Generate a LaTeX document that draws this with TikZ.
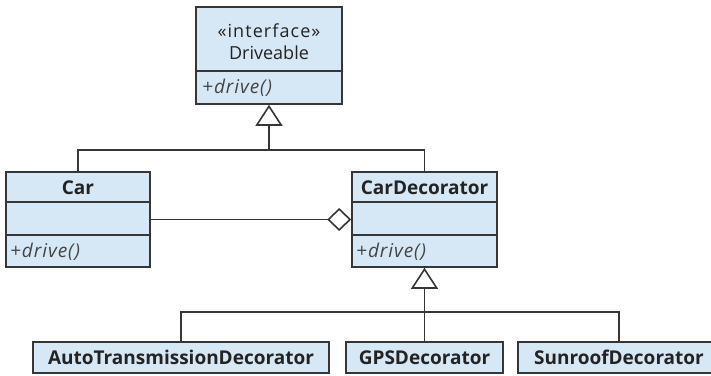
\documentclass[tikz,border=0pt]{standalone}
\usepackage{fontspec}
\setmainfont{Open Sans}
\usetikzlibrary{arrows.meta}
\definecolor{boxfill}{HTML}{D6E8F5}
\definecolor{edge}{HTML}{363636}
\definecolor{ink}{HTML}{232323}
\begin{document}
\begin{tikzpicture}[x=1pt,y=-1pt,
  classbox/.style={draw=edge, fill=boxfill, line width=1.6pt, inner sep=0pt, rectangle},
  title/.style={font=\fontsize{19}{22}\selectfont\bfseries, text=ink, inner sep=0pt},
  plain/.style={font=\fontsize{18}{21}\selectfont, text=ink, inner sep=0pt},
  op/.style={font=\fontsize{19}{22}\selectfont\itshape\addfontfeatures{LetterSpace=5}, text=ink!85, anchor=west, inner sep=0pt},
  line/.style={draw=edge, line width=1.6pt},
  inherit/.style={line, -{Triangle[open, length=21pt, width=27pt, line width=1.6pt]}},
  aggregate/.style={line, {Diamond[open, length=24pt, width=23pt, line width=1.6pt]}-}
]
\useasboundingbox (0,0) rectangle (711,375);

% interface Driveable
\node[classbox, minimum width=146pt, minimum height=97pt] (drv) at (269,55.5) {};
\draw[line] ([yshift=-65pt]drv.north west) -- ([yshift=-65pt]drv.north east);
\node[plain] (drvst) at (269,31) {\addfontfeatures{LetterSpace=6}«interface»};
\node[plain] (drvname) at (269,53) {Driveable};
\node[op] (drvop) at (202,88) {+drive()};

% class Car
\node[classbox, minimum width=144pt, minimum height=95pt] (car) at (78,219.5) {};
\draw[line] ([yshift=-31pt]car.north west) -- ([yshift=-31pt]car.north east);
\draw[line] ([yshift=-64pt]car.north west) -- ([yshift=-64pt]car.north east);
\node[title] (carname) at (78,188) {Car};
\node[op] (carop) at (10,252) {+drive()};

% class CarDecorator
\node[classbox, minimum width=145pt, minimum height=95pt] (dec) at (424.5,219.5) {};
\draw[line] ([yshift=-31pt]dec.north west) -- ([yshift=-31pt]dec.north east);
\draw[line] ([yshift=-64pt]dec.north west) -- ([yshift=-64pt]dec.north east);
\node[title] (decname) at (424.5,188) {CarDecorator};
\node[op] (decop) at (356,252) {+drive()};

% concrete decorators
\node[classbox, minimum width=296pt, minimum height=31pt] (atd) at (181,357.5) {};
\node[title] at (atd) {AutoTransmissionDecorator};
\node[classbox, minimum width=157pt, minimum height=31pt] (gps) at (424.5,357.5) {};
\node[title] at (gps) {GPSDecorator};
\node[classbox, minimum width=202pt, minimum height=31pt] (sun) at (619,357.5) {};
\node[title] at (sun) {SunroofDecorator};

% generalisation to Driveable
\coordinate (jtop) at (drv.south |- 0,150);
\draw[line] (car.north) |- (jtop) -| (dec.north);
\draw[inherit] (jtop) -- (drv.south);

% aggregation Car -- CarDecorator
\draw[aggregate] (dec.west) -- (car.east);

% generalisation to CarDecorator
\coordinate (jbot) at (dec.south |- 0,312);
\draw[line] (atd.north) |- (jbot) -| (sun.north);
\draw[inherit] (gps.north) -- (dec.south);
\end{tikzpicture}
\end{document}
